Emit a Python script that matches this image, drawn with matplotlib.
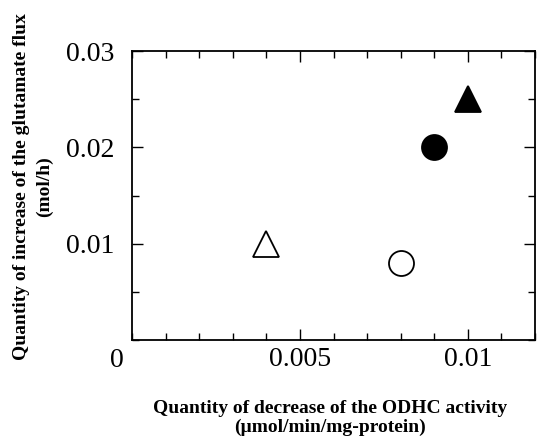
import matplotlib
matplotlib.use("Agg")
import matplotlib.pyplot as plt
from matplotlib.ticker import MultipleLocator

plt.rcParams['font.family'] = ['Liberation Serif', 'DejaVu Serif']

# data
odhc_decrease = [0.004, 0.008, 0.009, 0.010]
glu_increase = [0.010, 0.008, 0.020, 0.025]
markers = ['^', 'o', 'o', '^']
filled = [False, False, True, True]

x_ticks = [0.005, 0.01]
x_tick_labels = ['0.005', '0.01']
y_ticks = [0.01, 0.02, 0.03]
y_tick_labels = ['0.01', '0.02', '0.03']

fig = plt.figure(figsize=(5.37, 4.4), dpi=100)
ax = fig.add_axes([0.2458, 0.2273, 0.7505, 0.6567])

for x, y, m, f in zip(odhc_decrease, glu_increase, markers, filled):
    size = 19 if m == '^' else 18
    ax.plot(x, y, marker=m, markersize=size, linestyle='none',
            markerfacecolor='black' if f else 'white',
            markeredgecolor='black', markeredgewidth=1.3)

ax.set_xlim(0, 0.012)
ax.set_ylim(0, 0.03)
ax.set_xticks(x_ticks)
ax.set_xticklabels(x_tick_labels)
ax.set_yticks(y_ticks)
ax.set_yticklabels(y_tick_labels)
ax.xaxis.set_minor_locator(MultipleLocator(0.001))
ax.yaxis.set_minor_locator(MultipleLocator(0.005))

ax.tick_params(which='both', direction='in', top=True, right=True, width=1)
ax.tick_params(which='major', length=8, labelsize=20, pad=5)
ax.tick_params(axis='y', which='major', pad=13)
ax.tick_params(which='minor', length=5)
for s in ax.spines.values():
    s.set_linewidth(1.3)

# the lone origin label sits below-left of the corner
ax.annotate('0', xy=(0, 0), xytext=(-11, -6), textcoords='offset points',
            ha='center', va='top', fontsize=20)

fig.text(0.615, 0.05, 'Quantity of decrease of the ODHC activity\n(\u00b5mol/min/mg-protein)',
         ha='center', va='center', fontsize=14, fontweight='bold', linespacing=1.15)
fig.text(0.062, 0.575, 'Quantity of increase of the glutamate flux\n(mol/h)',
         ha='center', va='center', rotation=90, fontsize=14, fontweight='bold',
         linespacing=1.4)

fig.savefig('out.png', dpi=100)
